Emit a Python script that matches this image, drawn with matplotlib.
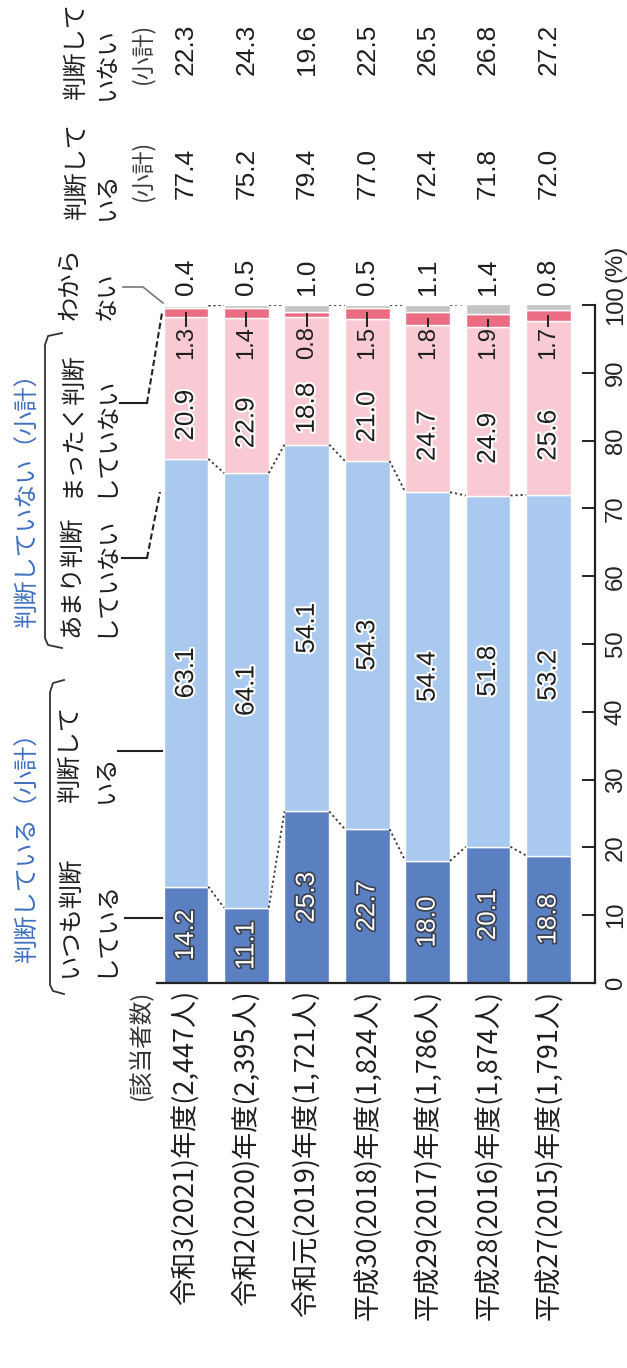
import matplotlib
matplotlib.use("Agg")
import matplotlib.pyplot as plt
import matplotlib.patheffects as pe
from matplotlib import font_manager
from matplotlib.lines import Line2D

# ---- data -------------------------------------------------------------
categories = [
    "令和3(2021)年度(2,447人)",
    "令和2(2020)年度(2,395人)",
    "令和元(2019)年度(1,721人)",
    "平成30(2018)年度(1,824人)",
    "平成29(2017)年度(1,786人)",
    "平成28(2016)年度(1,874人)",
    "平成27(2015)年度(1,791人)",
]
always = [14.2, 11.1, 25.3, 22.7, 18.0, 20.1, 18.8]      # いつも判断している
mostly = [63.1, 64.1, 54.1, 54.3, 54.4, 51.8, 53.2]      # 判断している
rarely = [20.9, 22.9, 18.8, 21.0, 24.7, 24.9, 25.6]      # あまり判断していない
never = [1.3, 1.4, 0.8, 1.5, 1.8, 1.9, 1.7]              # まったく判断していない
unknown = [0.4, 0.5, 1.0, 0.5, 1.1, 1.4, 0.8]            # わからない
judging_total = [77.4, 75.2, 79.4, 77.0, 72.4, 71.8, 72.0]
not_judging_total = [22.3, 24.3, 19.6, 22.5, 26.5, 26.8, 27.2]
value_ticks = [0, 10, 20, 30, 40, 50, 60, 70, 80, 90, 100]

# ---- style ------------------------------------------------------------
C_DARK = "#5a80c2"
C_LIGHT = "#a9c9ef"
C_PINK = "#f9cad3"
C_RED = "#eb6d83"
C_GREY = "#c4c4c4"
C_GROUP = "#3f6fc0"
C_TEXT = "#1e1e1e"

plt.rcParams["font.family"] = ["Noto Sans CJK JP", "DejaVu Sans"]

available = {f.name for f in font_manager.fontManager.ttflist}
if "Liberation Sans Narrow" in available:
    NUM_FAMILY, NUM_SCALE = "Liberation Sans Narrow", 1.0
else:
    NUM_FAMILY, NUM_SCALE = "Liberation Sans", 0.82

W, H, DPI = 627, 1368, 100
fig = plt.figure(figsize=(W / DPI, H / DPI), dpi=DPI)
fig.patch.set_facecolor("white")


def fxy(x, y):
    """pixel position (origin top-left) -> figure fraction"""
    return x / W, 1 - y / H


ax_l, ax_r, ax_t, ax_b = 157, 595, 305, 983
ax = fig.add_axes([ax_l / W, (H - ax_b) / H, (ax_r - ax_l) / W, (ax_b - ax_t) / H])
ax.set_xlim(-0.48, 6.77)
ax.set_ylim(0, 100)

x = list(range(len(categories)))
bw = 0.74

cum1 = [a for a in always]
cum2 = [a + b for a, b in zip(cum1, mostly)]
cum3 = [a + b for a, b in zip(cum2, rarely)]
cum4 = [a + b for a, b in zip(cum3, never)]
cum5 = [a + b for a, b in zip(cum4, unknown)]

seg_kw = dict(width=bw, edgecolor="white", linewidth=1.0, zorder=2)
ax.bar(x, always, color=C_DARK, **seg_kw)
ax.bar(x, mostly, bottom=cum1, color=C_LIGHT, **seg_kw)
ax.bar(x, rarely, bottom=cum2, color=C_PINK, **seg_kw)
ax.bar(x, never, bottom=cum3, color=C_RED, **seg_kw)
ax.bar(x, unknown, bottom=cum4, color=C_GREY, **seg_kw)

# dotted connectors between neighbouring bars
for level in (cum1, cum2, cum5):
    for i in range(len(x) - 1):
        ax.plot([x[i] + bw / 2, x[i + 1] - bw / 2], [level[i], level[i + 1]],
                ls=(0, (1.2, 1.6)), color="#333333", lw=1.3, zorder=3,
                solid_capstyle="butt")

# segment value labels
num_big = 23 * NUM_SCALE
num_small = 21 * NUM_SCALE
for i in x:
    ax.text(i, always[i] / 2, f"{always[i]:.1f}", rotation=90, ha="center", va="center",
            family=NUM_FAMILY, fontsize=num_big, color="white", zorder=4,
            path_effects=[pe.withStroke(linewidth=2.4, foreground="#3a3f4a")])
    ax.text(i, cum1[i] + mostly[i] / 2, f"{mostly[i]:.1f}", rotation=90, ha="center",
            va="center", family=NUM_FAMILY, fontsize=num_big, color=C_TEXT, zorder=4,
            path_effects=[pe.withStroke(linewidth=3, foreground="white")])
    ax.text(i, cum2[i] + rarely[i] / 2 - 4, f"{rarely[i]:.1f}", rotation=90, ha="center",
            va="center", family=NUM_FAMILY, fontsize=num_big, color=C_TEXT, zorder=4,
            path_effects=[pe.withStroke(linewidth=3, foreground="white")])
    # small red segment: label below it with a short leader
    ax.plot([i, i], [cum3[i] + never[i] / 2, 96.9], color="#222222", lw=1.4, zorder=4)
    ax.text(i, 96.9, f"{never[i]:.1f}", rotation=90, ha="center", va="top",
            family=NUM_FAMILY, fontsize=num_small, color=C_TEXT, zorder=4)

# column values above the bars
for i in x:
    for val, off in ((unknown[i], 20), (judging_total[i], 95), (not_judging_total[i], 184)):
        ax.annotate(f"{val:.1f}", xy=(i, 100), xytext=(0, off), textcoords="offset points",
                    rotation=90, ha="center", va="center", family=NUM_FAMILY,
                    fontsize=num_big, color=C_TEXT, annotation_clip=False)

# axes styling
for side in ("left", "top"):
    ax.spines[side].set_visible(False)
ax.spines["right"].set_linewidth(1.6)
ax.spines["bottom"].set_linewidth(1.6)
ax.spines["right"].set_color("#222222")
ax.spines["bottom"].set_color("#222222")

ax.yaxis.tick_right()
ax.set_yticks(value_ticks)
ax.set_yticklabels([str(v) for v in value_ticks])
ax.tick_params(axis="y", direction="in", length=9.5, width=1.4, pad=7,
               labelsize=21 * NUM_SCALE, colors="#222222")
for lab in ax.get_yticklabels():
    lab.set_rotation(90)
    lab.set_family(NUM_FAMILY)
    lab.set_ha("left")
    lab.set_va("center")

ax.set_xticks(x)
ax.set_xticklabels(categories, rotation=90, fontsize=19.5, color=C_TEXT)
ax.tick_params(axis="x", length=0, pad=5)
for lab in ax.get_xticklabels():
    lab.set_ha("center")
    lab.set_va("top")

# percent unit above the 100 tick
fig.text(*fxy(615, 282), "(%)", rotation=90, ha="center", va="bottom",
         family=NUM_FAMILY, fontsize=21 * NUM_SCALE, color="#222222")

# ---- header texts -----------------------------------------------------
JP = 17.5


def vtext(px, py, s, va="bottom", size=JP, color=C_TEXT):
    fig.text(*fxy(px, py), s, rotation=90, ha="center", va=va, fontsize=size, color=color)


# column headers above the value rows
vtext(76, 100, "判断して")
vtext(107, 100, "いない")
vtext(142, 53, "(小計)", va="center", size=16.5, color="#3c3c3c")
vtext(77, 220, "判断して")
vtext(107, 220, "いる")
vtext(142, 170, "(小計)", va="center", size=16.5, color="#3c3c3c")
vtext(69, 320, "わから")
vtext(107, 320, "ない")

# group captions
vtext(28, 628, "判断していない（小計）", color=C_GROUP)
vtext(28, 963, "判断している（小計）", color=C_GROUP)

# category captions
vtext(71, 497, "まったく判断")
vtext(105, 497, "していない")
vtext(71, 637, "あまり判断")
vtext(105, 637, "していない")
vtext(70, 803, "判断して")
vtext(106, 803, "いる")
vtext(70, 977, "いつも判断")
vtext(105, 977, "している")

vtext(140, 990, "(該当者数)", va="top", size=17, color="#333333")


def fig_line(pts, **kw):
    xs, ys = zip(*[fxy(px, py) for px, py in pts])
    fig.add_artist(Line2D(xs, ys, transform=fig.transFigure, **kw))


# group brackets
fig_line([(62, 333), (48, 336), (45, 345), (45, 638), (48, 645), (62, 648)],
         color="#333333", lw=1.3)
fig_line([(64, 680), (53, 683), (50, 692), (50, 985), (53, 991), (64, 994)],
         color="#333333", lw=1.3)

# leader lines from captions to bars
fig_line([(123, 287), (143, 287), (163, 303)], color="#777777", lw=1.2)
fig_line([(120, 403), (147, 403)], color="#222222", lw=1.5)
fig_line([(147, 403), (162, 313)], color="#222222", lw=1.5, ls=(0, (3, 1.5)))
fig_line([(122, 558), (147, 558)], color="#222222", lw=1.5)
fig_line([(147, 558), (160, 492)], color="#222222", lw=1.5, ls=(0, (3, 1.5)))
fig_line([(118, 751), (162, 751)], color="#222222", lw=1.5)
fig_line([(125, 918), (162, 918)], color="#222222", lw=1.5)

fig.savefig("out.png", dpi=DPI, facecolor="white")
